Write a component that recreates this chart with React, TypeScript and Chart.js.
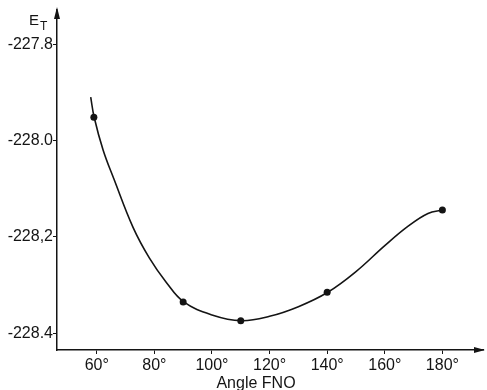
import React, { useEffect, useRef } from "react";
import { Chart, registerables } from "chart.js";

Chart.register(...registerables);

// Measured data points (angle FNO in degrees, total energy E_T)
const pointAngles = [59, 90, 110, 140, 180];
const pointEnergies = [-227.951, -228.335, -228.374, -228.315, -228.144];

// Hand-drawn smooth curve
const curveAngles = [57.9, 59.1, 62.2, 66.0, 72.6, 78.3, 84.1, 90.2, 100.0, 110.1, 120.0, 130.0, 140.2, 150.0, 160.0, 168.0, 175.0, 180.1];
const curveEnergies = [-227.909, -227.951, -228.019, -228.080, -228.180, -228.244, -228.294, -228.335, -228.362, -228.374, -228.365, -228.345, -228.315, -228.272, -228.218, -228.178, -228.151, -228.144];

// Axis ticks
const xTickValues = [60, 80, 100, 120, 140, 160, 180];
const xTickLabels = ["60°", "80°", "100°", "120°", "140°", "160°", "180°"];
const yTickValues = [-228.4, -228.2, -228.0, -227.8];
const yTickLabels = ["-228.4", "-228,2", "-228.0", "-227.8"];

const xTitle = "Angle FNO";
const yTitleMain = "E";
const yTitleSub = "T";

const INK = "#141414";
const FONT = "'Liberation Sans', Arial, sans-serif";

const decorPlugin = {
  id: "decor",
  afterDraw(chart: any) {
    const { ctx, chartArea } = chart;
    const { left, right, top, bottom } = chartArea;
    ctx.save();
    ctx.fillStyle = INK;
    // arrow on y axis (top)
    ctx.beginPath();
    ctx.moveTo(left, top - 3);
    ctx.lineTo(left - 3, top + 9);
    ctx.lineTo(left + 3, top + 9);
    ctx.closePath();
    ctx.fill();
    // arrow on x axis (right)
    ctx.beginPath();
    ctx.moveTo(right + 2, bottom);
    ctx.lineTo(right - 9, bottom - 3);
    ctx.lineTo(right - 9, bottom + 3);
    ctx.closePath();
    ctx.fill();
    // y title E_T
    ctx.textBaseline = "alphabetic";
    ctx.textAlign = "left";
    ctx.font = `15px ${FONT}`;
    ctx.fillText(yTitleMain, left - 28, top + 15);
    ctx.font = `12px ${FONT}`;
    ctx.fillText(yTitleSub, left - 17, top + 20);
    // x title
    ctx.font = `16px ${FONT}`;
    ctx.textAlign = "center";
    ctx.fillText(xTitle, (left + right) / 2 - 14, bottom + 38);
    ctx.restore();
  },
};

export default function App() {
  const canvasRef = useRef<HTMLCanvasElement | null>(null);

  useEffect(() => {
    if (!canvasRef.current) return;
    const chart = new Chart(canvasRef.current, {
      type: "line",
      data: {
        datasets: [
          {
            label: "curve",
            data: curveAngles.map((a, i) => ({ x: a, y: curveEnergies[i] })),
            borderColor: INK,
            borderWidth: 1.6,
            pointRadius: 0,
            tension: 0.4,
            fill: false,
          },
          {
            label: "points",
            data: pointAngles.map((a, i) => ({ x: a, y: pointEnergies[i] })),
            showLine: false,
            pointRadius: 3.5,
            pointBackgroundColor: INK,
            pointBorderColor: INK,
            pointBorderWidth: 0,
          },
        ],
      },
      plugins: [decorPlugin],
      options: {
        animation: false,
        responsive: true,
        maintainAspectRatio: false,
        layout: { padding: { top: 10, right: 2, left: 0, bottom: 0 } },
        plugins: {
          legend: { display: false },
          tooltip: { enabled: false },
          title: { display: false },
        },
        scales: {
          x: {
            type: "linear",
            min: 46.2,
            max: 194.1,
            afterFit: (scale: any) => {
              scale.height = 40;
            },
            afterBuildTicks: (scale: any) => {
              scale.ticks = xTickValues.map((v) => ({ value: v }));
            },
            ticks: {
              color: INK,
              font: { family: FONT, size: 16 },
              padding: 2,
              maxRotation: 0,
              autoSkip: false,
              callback: (value: any) => {
                const i = xTickValues.indexOf(Number(value));
                return i >= 0 ? xTickLabels[i] : "";
              },
            },
            grid: {
              display: true,
              drawOnChartArea: false,
              drawTicks: true,
              tickLength: 4,
              color: INK,
              lineWidth: 1,
            },
            border: { display: true, color: INK, width: 1.5 },
          },
          y: {
            type: "linear",
            min: -228.435,
            max: -227.728,
            afterFit: (scale: any) => {
              scale.width = 57;
            },
            afterBuildTicks: (scale: any) => {
              scale.ticks = yTickValues.map((v) => ({ value: v }));
            },
            ticks: {
              color: INK,
              font: { family: FONT, size: 16 },
              padding: 0,
              autoSkip: false,
              callback: (value: any) => {
                const v = Number(value);
                const i = yTickValues.findIndex((t) => Math.abs(t - v) < 1e-6);
                return i >= 0 ? yTickLabels[i] : "";
              },
            },
            grid: {
              display: true,
              drawOnChartArea: false,
              drawTicks: true,
              tickLength: 4,
              color: INK,
              lineWidth: 1,
            },
            border: { display: true, color: INK, width: 1.5 },
          },
        },
      },
    } as any);
    return () => chart.destroy();
  }, []);

  return (
    <div style={{ position: "fixed", left: 0, top: 0, width: 487, height: 390, background: "#fff" }}>
      <canvas ref={canvasRef} />
    </div>
  );
}
